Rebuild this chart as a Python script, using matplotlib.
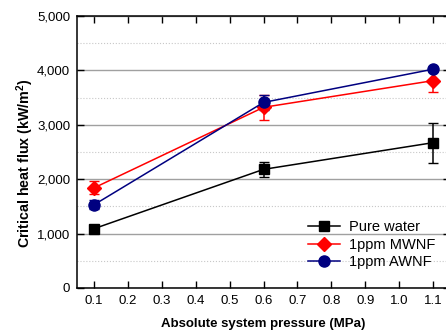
import matplotlib.pyplot as plt
from matplotlib.ticker import MultipleLocator, FuncFormatter

plt.rcParams['font.family'] = ['Liberation Sans', 'DejaVu Sans']
plt.rcParams['mathtext.fontset'] = 'custom'
plt.rcParams['mathtext.bf'] = 'Liberation Sans:bold'
plt.rcParams['mathtext.rm'] = 'Liberation Sans'

# data
pressure = [0.1, 0.6, 1.1]
pure_water = [1090, 2180, 2670]
pure_water_err = [50, 140, 370]
mwnf = [1840, 3320, 3810]
mwnf_err = [120, 230, 210]
awnf = [1530, 3410, 4020]
awnf_err = [80, 140, 40]

fig = plt.figure(figsize=(4.46, 3.31), dpi=100)
ax = fig.add_axes([0.173, 0.130, 0.836, 0.822])

e1 = ax.errorbar(pressure, pure_water, yerr=pure_water_err, color='black', marker='s',
                 markersize=7, lw=1.1, capsize=3.5, elinewidth=1.1)
e2 = ax.errorbar(pressure, mwnf, yerr=mwnf_err, color='#ff0000', marker='D',
                 markersize=7, lw=1.1, capsize=3.5, elinewidth=1.1)
e3 = ax.errorbar(pressure, awnf, yerr=awnf_err, color='#000080', marker='o',
                 markersize=8, lw=1.1, capsize=3.5, elinewidth=1.1)

ax.set_xlim(0.05, 1.15)
ax.set_ylim(0, 5000)
ax.xaxis.set_major_locator(MultipleLocator(0.1))
ax.yaxis.set_major_locator(MultipleLocator(1000))
ax.yaxis.set_minor_locator(MultipleLocator(500))
ax.xaxis.set_major_formatter(FuncFormatter(lambda v, p: '%.1f' % v))
ax.yaxis.set_major_formatter(FuncFormatter(lambda v, p: '{:,.0f}'.format(v)))

ax.grid(axis='y', which='major', color='#a0a0a0', lw=1.0)
ax.grid(axis='y', which='minor', color='#c8c8c8', lw=0.8, ls=':')
ax.set_axisbelow(True)

ax.tick_params(which='major', direction='in', length=5, width=1, labelsize=9.5,
               top=True, right=True, pad=5)
ax.tick_params(which='minor', direction='in', length=0)
for s in ax.spines.values():
    s.set_linewidth(1.1)

ax.set_xlabel('Absolute system pressure (MPa)', fontsize=9.5, fontweight='bold', labelpad=8)
ax.set_ylabel(r'Critical heat flux (kW/m$^\mathbf{2}$)', fontsize=10.3, fontweight='bold')
ax.yaxis.set_label_coords(-0.110, 0.46)

# legend shows only line + marker, no error bars
ax.legend([e1[0], e2[0], e3[0]], ['Pure water', '1ppm MWNF', '1ppm AWNF'],
          loc='lower right', bbox_to_anchor=(0.995, 0.02), frameon=False, fontsize=10.5,
          handlelength=2.2, labelspacing=0.25, handletextpad=0.6)

fig.savefig('out.png', dpi=100)
